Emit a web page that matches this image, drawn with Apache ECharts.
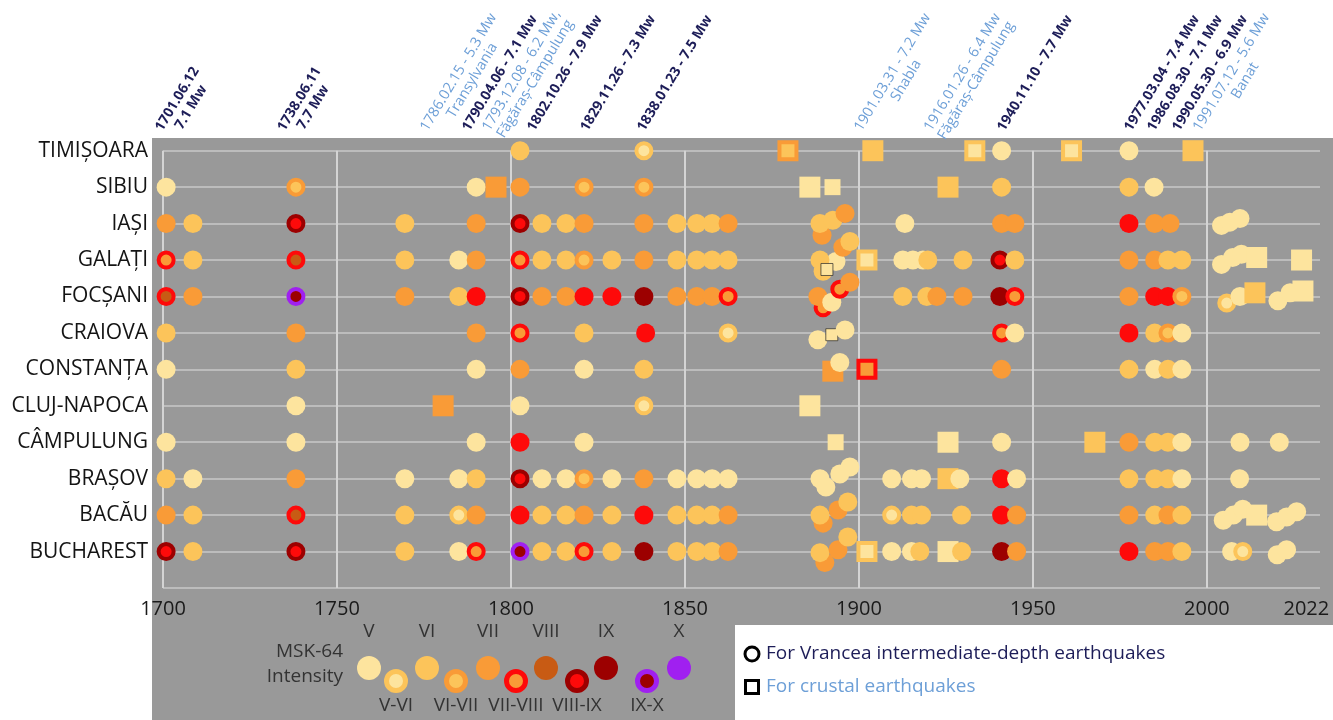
<!DOCTYPE html>
<html>
<head>
<meta charset="utf-8">
<script src="https://cdn.jsdelivr.net/npm/echarts@6/dist/echarts.min.js"></script>
<style>
  html, body { margin: 0; padding: 0; background: #ffffff; }
  #chart { width: 1333px; height: 720px; }
</style>
</head>
<body>
<div id="chart"></div>
<script>
// ---- rows (top to bottom) and axis ticks ----
const cities = ['TIMIȘOARA', 'SIBIU', 'IAȘI', 'GALAȚI', 'FOCȘANI', 'CRAIOVA',
  'CONSTANȚA', 'CLUJ-NAPOCA', 'CÂMPULUNG', 'BRAȘOV', 'BACĂU', 'BUCHAREST'];
const yearTicks = [1700, 1750, 1800, 1850, 1900, 1950, 2000, 2022];

// ---- observed intensities per city ----
// [year, MSK-64 intensity, source, stack]
// source: 'v' Vrancea intermediate-depth, 'c' crustal, 'cs' crustal (minor), 'ct' crustal (trace)
// stack: vertical stacking of reports that fall close together (in rows)
const timisoara = [
  [1802.6, 'VI', 'v'], [1838.2, 'V-VI', 'v'], [1879.6, 'VI-VII', 'c'], [1904.0, 'VI', 'c'],
  [1933.3, 'V-VI', 'c'], [1941.0, 'V', 'v'], [1961.1, 'V-VI', 'c'], [1977.6, 'V', 'v'], [1996.0, 'VI', 'c']
];
const sibiu = [
  [1700.9, 'V', 'v'], [1738.2, 'VI-VII', 'v'], [1790.0, 'V', 'v'], [1795.7, 'VII', 'c'],
  [1802.6, 'VII', 'v'], [1821.0, 'VI-VII', 'v'], [1838.2, 'VI-VII', 'v'],
  [1885.9, 'V', 'c'], [1892.4, 'V', 'cs'], [1925.6, 'VI', 'c'], [1941.0, 'VI', 'v'],
  [1977.6, 'VI', 'v'], [1984.8, 'V', 'v']
];
const iasi = [
  [1700.9, 'VII', 'v'], [1708.6, 'VI', 'v'], [1738.2, 'VIII-IX', 'v'], [1769.5, 'VI', 'v'],
  [1790.0, 'VII', 'v'], [1802.6, 'VIII-IX', 'v'], [1808.9, 'VI', 'v'], [1815.8, 'VI', 'v'],
  [1821.0, 'VII', 'v'], [1838.2, 'VII', 'v'], [1847.7, 'VI', 'v'], [1853.4, 'VI', 'v'],
  [1857.8, 'VI', 'v'], [1862.4, 'VII', 'v'],
  [1889.4, 'VII', 'v', 0.32], [1888.8, 'VI', 'v'], [1892.5, 'VI', 'v', -0.09], [1896.0, 'VII', 'v', -0.28],
  [1913.2, 'V', 'v'], [1941.0, 'VII', 'v'], [1944.8, 'VII', 'v'],
  [1977.6, 'VIIIa', 'v'], [1985.0, 'VII', 'v'], [1989.4, 'VII', 'v'],
  [2004.2, 'V', 'v', 0.05], [2006.6, 'V', 'v', -0.04], [2009.5, 'V', 'v', -0.14]
];
const galati = [
  [1700.9, 'VII-VIII', 'v'], [1708.6, 'VI', 'v'], [1738.2, 'VIIIb', 'v'], [1769.5, 'VI', 'v'],
  [1785.0, 'V', 'v'], [1790.0, 'VII', 'v'], [1802.6, 'VII-VIII', 'v'], [1808.9, 'VI', 'v'],
  [1815.8, 'VI', 'v'], [1821.0, 'VI-VII', 'v'], [1829.0, 'VI', 'v'], [1838.2, 'VII', 'v'],
  [1847.7, 'VI', 'v'], [1853.4, 'VI', 'v'], [1857.8, 'VI', 'v'], [1862.4, 'VI', 'v'],
  [1893.4, 'V', 'v', 0.04], [1888.8, 'VI', 'v'], [1889.7, 'VI', 'v', 0.31], [1890.8, 'V', 'ct', 0.26],
  [1895.4, 'VII', 'v', -0.35], [1897.4, 'VI', 'v', -0.51], [1902.3, 'V-VI', 'c'],
  [1912.6, 'V', 'v'], [1915.5, 'V', 'v'], [1918.4, 'V', 'v'], [1919.8, 'VI', 'v'], [1929.9, 'VI', 'v'],
  [1940.5, 'VIII-IX', 'v'], [1944.8, 'VI', 'v'],
  [1977.6, 'VII', 'v'], [1985.0, 'VII', 'v'], [1988.8, 'VI', 'v'], [1992.8, 'VI', 'v'],
  [2004.2, 'V', 'v', 0.12], [2007.4, 'V', 'v', -0.07], [2009.9, 'V', 'v', -0.16],
  [2014.3, 'V', 'c', -0.07], [2027.2, 'V', 'c']
];
const focsani = [
  [1700.9, 'VIIIb', 'v'], [1708.6, 'VII', 'v'], [1738.2, 'IX-X', 'v'], [1769.5, 'VII', 'v'],
  [1785.0, 'VI', 'v'], [1790.0, 'VIIIa', 'v'], [1802.6, 'VIII-IX', 'v'], [1808.9, 'VII', 'v'],
  [1815.8, 'VII', 'v'], [1821.0, 'VIIIa', 'v'], [1829.0, 'VIIIa', 'v'], [1838.2, 'IX', 'v'],
  [1847.7, 'VII', 'v'], [1853.4, 'VII', 'v'], [1857.8, 'VII', 'v'], [1862.4, 'VII-VIII', 'v'],
  [1889.7, 'VII-VIII', 'v', 0.31], [1888.2, 'VII', 'v'], [1892.2, 'V', 'v', 0.16],
  [1894.5, 'VII-VIII', 'v', -0.2], [1897.4, 'VII', 'v', -0.39],
  [1912.6, 'VI', 'v'], [1919.5, 'VI', 'v'], [1922.4, 'VII', 'v'], [1929.9, 'VII', 'v'],
  [1940.5, 'IX', 'v'], [1944.8, 'VII-VIII', 'v'],
  [1977.6, 'VII', 'v'], [1985.0, 'VIIIa', 'v'], [1988.8, 'VIIIa', 'v'], [1992.8, 'VI-VII', 'v'],
  [2005.7, 'V-VI', 'v', 0.18], [2009.5, 'V', 'v'], [2013.8, 'VI', 'c', -0.1],
  [2020.4, 'V', 'v', 0.12], [2023.9, 'V', 'v', -0.1], [2027.6, 'V', 'c', -0.15]
];
const craiova = [
  [1700.9, 'VI', 'v'], [1738.2, 'VII', 'v'], [1790.0, 'VII', 'v'], [1802.6, 'VII-VIII', 'v'],
  [1821.0, 'VI', 'v'], [1838.7, 'VIIIa', 'v'], [1862.4, 'V-VI', 'v'],
  [1888.2, 'V', 'v', 0.19], [1892.2, 'V', 'ct', 0.05], [1896.0, 'V', 'v', -0.08],
  [1941.0, 'VII-VIII', 'v'], [1944.8, 'V', 'v'],
  [1977.6, 'VIIIa', 'v'], [1985.0, 'VI', 'v'], [1988.8, 'VI-VII', 'v'], [1992.8, 'V', 'v']
];
const constanta = [
  [1700.9, 'V', 'v'], [1738.2, 'VI', 'v'], [1790.0, 'V', 'v'], [1802.6, 'VII', 'v'],
  [1821.0, 'V', 'v'], [1838.2, 'VI', 'v'],
  [1892.5, 'VII', 'c', 0.05], [1894.5, 'V', 'v', -0.19], [1902.3, 'VII-VIII', 'c'],
  [1941.0, 'VII', 'v'],
  [1977.6, 'VI', 'v'], [1985.0, 'V', 'v'], [1988.8, 'VI', 'v'], [1992.8, 'V', 'v']
];
const cluj = [
  [1738.2, 'V', 'v'], [1780.5, 'VII', 'c'], [1802.6, 'V', 'v'], [1838.2, 'V-VI', 'v'], [1885.9, 'V', 'c']
];
const campulung = [
  [1700.9, 'V', 'v'], [1738.2, 'V', 'v'], [1790.0, 'V', 'v'], [1802.6, 'VIIIa', 'v'], [1821.0, 'V', 'v'],
  [1893.3, 'V', 'cs'], [1925.6, 'V', 'c'], [1941.0, 'V', 'v'], [1967.8, 'VI', 'c'],
  [1977.6, 'VII', 'v'], [1985.0, 'VI', 'v'], [1988.8, 'VI', 'v'], [1992.8, 'V', 'v'],
  [2009.5, 'V', 'v'], [2020.8, 'V', 'v']
];
const brasov = [
  [1700.9, 'VI', 'v'], [1708.6, 'V', 'v'], [1738.2, 'VII', 'v'], [1769.5, 'V', 'v'],
  [1785.0, 'V', 'v'], [1790.0, 'VI', 'v'], [1802.6, 'VIII-IX', 'v'], [1808.9, 'V', 'v'],
  [1815.8, 'V', 'v'], [1821.0, 'VI-VII', 'v'], [1829.0, 'V', 'v'], [1838.2, 'VII', 'v'],
  [1847.7, 'V', 'v'], [1853.4, 'V', 'v'], [1857.8, 'V', 'v'], [1862.4, 'V', 'v'],
  [1888.8, 'V', 'v'], [1890.5, 'V', 'v', 0.23], [1894.5, 'V', 'v', -0.13], [1897.4, 'V', 'v', -0.32],
  [1909.4, 'V', 'v'], [1915.1, 'V', 'v'], [1918.0, 'V', 'v'], [1925.6, 'VI', 'c'], [1929.0, 'V', 'v'],
  [1941.0, 'VIIIa', 'v'], [1945.3, 'V', 'v'],
  [1977.6, 'VI', 'v'], [1985.0, 'VI', 'v'], [1988.8, 'VI', 'v'], [1992.8, 'V', 'v'], [2009.4, 'V', 'v']
];
const bacau = [
  [1700.9, 'VII', 'v'], [1708.6, 'VI', 'v'], [1738.2, 'VIIIb', 'v'], [1769.5, 'VI', 'v'],
  [1785.0, 'V-VI', 'v'], [1790.0, 'VII', 'v'], [1802.6, 'VIIIa', 'v'], [1808.9, 'VI', 'v'],
  [1815.8, 'VI', 'v'], [1821.0, 'VII', 'v'], [1829.0, 'VI', 'v'], [1838.2, 'VIIIa', 'v'],
  [1847.7, 'VI', 'v'], [1853.4, 'VI', 'v'], [1857.8, 'VI', 'v'], [1862.4, 'VII', 'v'],
  [1889.7, 'VII', 'v', 0.22], [1888.8, 'VI', 'v'], [1894.0, 'VII', 'v', -0.14], [1896.8, 'VI', 'v', -0.36],
  [1909.4, 'V-VI', 'v'], [1915.1, 'VI', 'v'], [1918.0, 'VI', 'v'], [1929.5, 'VI', 'v'],
  [1941.0, 'VIIIa', 'v'], [1945.3, 'VII', 'v'],
  [1977.6, 'VII', 'v'], [1985.0, 'VI', 'v'], [1988.8, 'VII', 'v'], [1992.8, 'VI', 'v'],
  [2004.7, 'V', 'v', 0.14], [2007.6, 'V', 'v'], [2010.3, 'V', 'v', -0.16], [2014.3, 'V', 'c'],
  [2020.0, 'V', 'v', 0.18], [2022.9, 'V', 'v', 0.05], [2025.8, 'V', 'v', -0.09]
];
const bucharest = [
  [1700.9, 'VIII-IX', 'v'], [1708.6, 'VI', 'v'], [1738.2, 'VIII-IX', 'v'], [1769.5, 'VI', 'v'],
  [1785.0, 'V', 'v'], [1790.0, 'VII-VIII', 'v'], [1802.6, 'IX-X', 'v'], [1808.9, 'VI', 'v'],
  [1815.8, 'VI', 'v'], [1821.0, 'VII-VIII', 'v'], [1829.0, 'VI', 'v'], [1838.2, 'IX', 'v'],
  [1847.7, 'VI', 'v'], [1853.4, 'VI', 'v'], [1857.8, 'VI', 'v'], [1862.4, 'VII', 'v'],
  [1890.2, 'VII', 'v', 0.3], [1888.8, 'VI', 'v', 0.03], [1894.0, 'VII', 'v', -0.05], [1896.8, 'VI', 'v', -0.4],
  [1902.3, 'V-VI', 'c'], [1909.4, 'V', 'v'], [1915.1, 'V', 'v'], [1917.5, 'VI', 'v'],
  [1925.6, 'V', 'c'], [1929.5, 'VI', 'v'], [1941.0, 'IX', 'v'], [1945.3, 'VII', 'v'],
  [1977.6, 'VIIIa', 'v'], [1985.0, 'VII', 'v'], [1988.8, 'VII', 'v'], [1992.8, 'VI', 'v'],
  [2007.1, 'V', 'v'], [2010.3, 'V-VI', 'v'], [2020.2, 'V', 'v', 0.09], [2022.9, 'V', 'v', -0.05]
];
const cityRows = [timisoara, sibiu, iasi, galati, focsani, craiova,
  constanta, cluj, campulung, brasov, bacau, bucharest];

// ---- major earthquakes named above the plot ----
const quakeNames = [
  '1701.06.12\n7.1 Mw', '1738.06.11\n7.7 Mw', '1786.02.15 - 5.3 Mw\nTransylvania',
  '1790.04.06 - 7.1 Mw', '1793.12.08 - 6.2 Mw,\nFăgăraș-Câmpulung', '1802.10.26 - 7.9 Mw',
  '1829.11.26 - 7.3 Mw', '1838.01.23 - 7.5 Mw', '1901.03.31 - 7.2 Mw\nShabla',
  '1916.01.26 - 6.4 Mw\nFăgăraș-Câmpulung', '1940.11.10 - 7.7 Mw', '1977.03.04 - 7.4 Mw',
  '1986.08.30 - 7.1 Mw', '1990.05.30 - 6.9 Mw', '1991.07.12 - 5.6 Mw\nBanat'
];
const quakeSource = ['v', 'v', 'c', 'v', 'c', 'v', 'v', 'v', 'c', 'c', 'v', 'v', 'v', 'v', 'c'];

// ---- legend keys ----
const legendTop = ['V', 'VI', 'VII', 'VIII', 'IX', 'X'];
const legendBottom = ['V-VI', 'VI-VII', 'VII-VIII', 'VIII-IX', 'IX-X'];
const sourceNames = ['For Vrancea intermediate-depth earthquakes', 'For crustal earthquakes'];

// ---------------------------------------------------------------------------
const FONT = '"Open Sans", "Noto Sans", sans-serif';
const C = {
  v: '#fde49e', vi: '#fcc45a', vii: '#f99b37', viii: '#c85b14',
  red: '#fe0a0a', ix: '#9c0000', x: '#a020f0'
};
// fill + optional rim for every intensity class
const STYLE = {
  'V': { fill: C.v },
  'V-VI': { fill: C.v, ring: C.vi },
  'VI': { fill: C.vi },
  'VI-VII': { fill: C.vi, ring: C.vii },
  'VII': { fill: C.vii },
  'VII-VIII': { fill: C.vii, ring: C.red },
  'VIII': { fill: C.viii },
  'VIII-IX': { fill: C.red, ring: C.ix },
  'IX': { fill: C.ix },
  'IX-X': { fill: C.ix, ring: C.x },
  'X': { fill: C.x },
  'VIIIa': { fill: C.red },
  'VIIIb': { fill: C.viii, ring: C.red }
};
const MARK = {
  v: { symbol: 'circle', size: 19 },
  c: { symbol: 'rect', size: 21 },
  cs: { symbol: 'rect', size: 16 },
  ct: { symbol: 'rect', size: 12, edge: 'rgba(40,40,40,0.7)' }
};
const RIM = 4;
const NAVY = '#1d1d58';
const SKY = '#6d9fd7';

const points = [];
cityRows.forEach((list, row) => {
  list.forEach(([year, level, src, stack = 0]) => {
    const st = STYLE[level];
    const mk = MARK[src];
    points.push({
      value: [year, row + stack],
      symbol: mk.symbol,
      symbolSize: st.ring ? mk.size - RIM : mk.size,
      itemStyle: {
        color: st.fill,
        borderColor: st.ring || mk.edge || 'rgba(0,0,0,0)',
        borderWidth: st.ring ? RIM : (mk.edge ? 1 : 0),
        opacity: 1
      }
    });
  });
});

const chart = echarts.init(document.getElementById('chart'));
chart.setOption({
  animation: false,
  backgroundColor: '#ffffff',
  grid: { left: 163, right: 13, top: 150.7, bottom: 132 },
  xAxis: {
    type: 'value', min: 1700, max: 2032.5, interval: 50,
    axisLine: { show: false }, axisTick: { show: false },
    splitLine: { show: true, showMaxLine: false, lineStyle: { color: '#d4d4d4', width: 2 } },
    axisLabel: {
      customValues: yearTicks, formatter: v => String(v),
      color: '#1a1a1a', fontSize: 20, fontFamily: FONT,
      margin: 11, alignMaxLabel: 'left', hideOverlap: false
    }
  },
  yAxis: {
    type: 'value', inverse: true, min: 0, max: 12, interval: 1,
    axisLine: { show: false }, axisTick: { show: false },
    splitLine: { show: true, lineStyle: { color: '#c8c8c8', width: 1.5 } },
    axisLabel: {
      formatter: v => cities[v] || '', color: '#141414', fontSize: 21,
      fontFamily: FONT, margin: 15
    }
  },
  series: [{
    type: 'scatter', data: points, silent: true, z: 3
  }]
});

// ---- decorations: panel, event names, key ----
const measure = document.createElement('canvas').getContext('2d');
function textWidth(str, font) { measure.font = font; return measure.measureText(str).width; }

const graphics = [
  { type: 'rect', z: -5, shape: { x: 152, y: 138, width: 1181, height: 582 }, style: { fill: '#999999' } },
  { type: 'rect', z: 5, shape: { x: 735, y: 625, width: 598, height: 95 }, style: { fill: '#ffffff' } }
];

// event names, rotated, lines centred on each other;
// each name starts at the year given below, just above the panel
const ANG = 59 * Math.PI / 180;
const ux = Math.cos(ANG), uy = -Math.sin(ANG);   // along the text
const vx = Math.sin(ANG), vy = Math.cos(ANG);    // towards the next line
const LH = 16;
const quakeStartYear = [1698.8, 1733.9, 1775.0, 1787.0, 1792.8, 1805.7, 1821.0, 1837.3,
  1899.7, 1919.8, 1940.8, 1977.3, 1983.9, 1991.1, 1997.1];
quakeNames.forEach((name, i) => {
  const dark = quakeSource[i] === 'v';
  const font = dark ? ('bold 14px ' + FONT) : ('14.5px ' + FONT);
  const lines = name.split('\n');
  const L1 = textWidth(lines[0], font);
  const sx = chart.convertToPixel({ xAxisIndex: 0 }, quakeStartYear[i]);
  const sy = 130;
  const k = (lines.length - 1) * LH / 2;
  graphics.push({
    type: 'text', z: 6,
    x: sx + ux * L1 / 2 + vx * k,
    y: sy + uy * L1 / 2 + vy * k,
    rotation: ANG,
    style: {
      text: name, font: font, fill: dark ? NAVY : SKY,
      align: 'center', textAlign: 'center',
      verticalAlign: 'middle', textVerticalAlign: 'middle', lineHeight: LH
    }
  });
});

// intensity key
const keyFont = '19px ' + FONT;
function keyDot(level, cx, cy) {
  const st = STYLE[level];
  const D = 24, rim = 5;
  return st.ring
    ? { type: 'circle', z: 6, shape: { cx, cy, r: (D - rim) / 2 }, style: { fill: st.fill, stroke: st.ring, lineWidth: rim } }
    : { type: 'circle', z: 6, shape: { cx, cy, r: D / 2 }, style: { fill: st.fill } };
}
function keyText(str, x, y, align, fill, font) {
  return { type: 'text', z: 6, x, y, style: { text: str, font: font || keyFont, fill: fill || '#333333',
    align, textAlign: align, verticalAlign: 'middle', textVerticalAlign: 'middle' } };
}
graphics.push(keyText('MSK-64', 343, 652, 'right'));
graphics.push(keyText('Intensity', 343, 677, 'right'));
const topX = [369, 427, 488, 546, 606, 679];
const botX = [396, 456, 516, 577, 647];
legendTop.forEach((lv, i) => {
  graphics.push(keyText(lv, topX[i], 632, 'center'));
  graphics.push(keyDot(lv, topX[i], 668));
});
legendBottom.forEach((lv, i) => {
  graphics.push(keyDot(lv, botX[i], 681));
  graphics.push(keyText(lv, botX[i], 706, 'center'));
});

// source key
graphics.push({ type: 'circle', z: 7, shape: { cx: 752, cy: 654, r: 7 }, style: { fill: 'none', stroke: '#000', lineWidth: 3 } });
graphics.push({ type: 'rect', z: 7, shape: { x: 745.5, y: 680.5, width: 13, height: 13 }, style: { fill: 'none', stroke: '#000', lineWidth: 3 } });
graphics.push(keyText(sourceNames[0], 766, 654, 'left', NAVY, '19px ' + FONT));
graphics.push(keyText(sourceNames[1], 766, 687, 'left', SKY, '19px ' + FONT));

chart.setOption({ graphic: { elements: graphics } });
</script>
</body>
</html>
